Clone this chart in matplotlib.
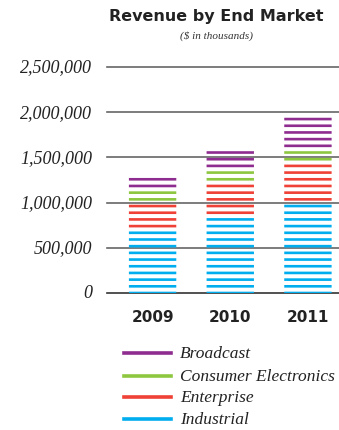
import numpy as np
import matplotlib
matplotlib.use("Agg")
import matplotlib.pyplot as plt
from matplotlib.lines import Line2D

# Revenue by end market ($ thousands)
years = ['2009', '2010', '2011']
markets = ['Industrial', 'Enterprise', 'Consumer Electronics', 'Broadcast']
industrial = [700000, 850000, 1000000]
enterprise = [290000, 370000, 440000]
consumer = [160000, 150000, 150000]
broadcast = [130000, 210000, 360000]
colors = ['#00AEEF', '#EF4136', '#8DC63F', '#8E2C8F']
yticks = [0, 500000, 1000000, 1500000, 2000000, 2500000]

# stripe style: one stripe every STEP of revenue
STEP = 74000

W, H = 339, 431
fig = plt.figure(figsize=(W / 100, H / 100), dpi=100)
ax = fig.add_axes([107 / W, 1 - 294 / H, 232 / W, (294 - 68) / H])

serif = 'Liberation Serif'
sans = 'DejaVu Sans'

segments = np.array([industrial, enterprise, consumer, broadcast])
cum = np.cumsum(segments, axis=0)
x = np.arange(len(years))

# gridlines first so the stripes sit on top
for t in yticks:
    ax.axhline(t, color='#333333' if t == 0 else '#666666', lw=1.2, zorder=1, clip_on=False)

for j in range(len(years)):
    total = cum[-1, j]
    k = 0
    while k * STEP < total:
        c = k * STEP
        seg = int(np.searchsorted(cum[:, j], c, side='right'))
        stripe = ax.hlines(c, x[j] - 0.305, x[j] + 0.305, color=colors[seg], lw=1.9,
                           capstyle='butt', zorder=2)
        stripe.set_snap(False)
        k += 1

ax.set_xlim(-0.587, 2.4)
ax.set_ylim(0, 2500000)
for s in ax.spines.values():
    s.set_visible(False)
ax.set_xticks([])
ax.set_yticks([])

for t in yticks:
    ax.text(-0.78, t, f'{t:,}', ha='right', va='center', fontsize=13,
            family=serif, style='italic', color='#222222')
for j, yr in enumerate(years):
    ax.text(x[j], -180000, yr, ha='center', va='top', fontsize=11,
            family=sans, weight='bold', color='#222222')

fig.text(216 / W, 1 - 16 / H, 'Revenue by End Market', ha='center', va='center',
         fontsize=11.5, family=sans, weight='bold', color='#222222')
fig.text(216 / W, 1 - 36 / H, '($ in thousands)', ha='center', va='center',
         fontsize=8, family=serif, style='italic', color='#333333')

# legend, drawn top to bottom: Broadcast ... Industrial
rows = [354, 377, 398, 420]
for i, name in enumerate(markets[::-1]):
    yy = 1 - rows[i] / H
    fig.add_artist(Line2D([124 / W, 171 / W], [yy, yy], color=colors[::-1][i], lw=2.6))
    fig.text(180 / W, yy, name, ha='left', va='center', fontsize=12.5,
             family=serif, style='italic', color='#222222')

fig.savefig('out.png', dpi=100, facecolor='white')
